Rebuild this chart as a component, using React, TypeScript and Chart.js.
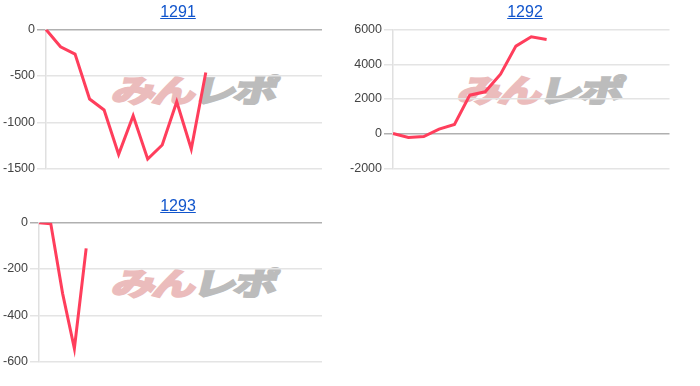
import React, { useEffect, useRef } from "react";
import { Chart, registerables } from "chart.js";

Chart.register(...registerables);

// ---- data ----
const titles1291 = "1291";
const titles1292 = "1292";
const titles1293 = "1293";

const days1291 = ["1","2","3","4","5","6","7","8","9","10","11","12","13","14","15","16","17","18","19","20"];
const values1291 = [0, -186, -265, -748, -866, -1343, -927, -1393, -1242, -777, -1285, -462];
const ticks1291 = [-1500, -1000, -500, 0];

const days1292 = ["1","2","3","4","5","6","7","8","9","10","11","12","13","14","15","16","17","18","19"];
const values1292 = [10, -216, -158, 264, 533, 2221, 2413, 3430, 5043, 5580, 5426];
const ticks1292 = [-2000, 0, 2000, 4000, 6000];

const days1293 = ["1","2","3","4","5","6","7","8","9","10","11","12","13","14","15","16","17","18","19","20","21","22","23","24","25"];
const values1293 = [0, -5, -305, -543, -111];
const ticks1293 = [-600, -400, -200, 0];

const LINE = "rgb(255,62,92)";
const FONT = "Arial, 'Liberation Sans', sans-serif";

type Box = { left: number; top: number; width: number; height: number };

function MiniChart(props: {
  box: Box;
  labels: string[];
  values: number[];
  ticks: number[];
  axisWidth: number;
  pad: { top: number; bottom: number; right: number };
}) {
  const ref = useRef<HTMLCanvasElement | null>(null);
  useEffect(() => {
    if (!ref.current) return;
    const { labels, values, ticks, axisWidth, pad } = props;
    const min = ticks[0];
    const max = ticks[ticks.length - 1];
    const step = ticks[1] - ticks[0];
    const chart = new Chart(ref.current, {
      type: "line",
      data: {
        labels,
        datasets: [
          {
            data: values,
            borderColor: LINE,
            backgroundColor: LINE,
            borderWidth: 3,
            pointRadius: 0,
            tension: 0,
            fill: false,
          },
        ],
      },
      options: {
        animation: false,
        responsive: false,
        maintainAspectRatio: false,
        layout: { padding: { left: 0, top: pad.top, bottom: pad.bottom, right: pad.right } },
        plugins: { legend: { display: false }, tooltip: { enabled: false }, title: { display: false } },
        scales: {
          x: { type: "category", display: false, offset: false },
          y: {
            min,
            max,
            afterBuildTicks: (s: any) => {
              s.ticks = ticks.map((v) => ({ value: v }));
            },
            afterFit: (s: any) => {
              s.width = axisWidth;
            },
            ticks: {
              stepSize: step,
              color: "#444",
              font: { family: FONT, size: 12.5 },
              padding: 2,
              callback: (v: any) => String(v),
            },
            grid: {
              color: (ctx: any) => (ctx.tick && ctx.tick.value === 0 ? "#b0b0b0" : "#e4e4e4"),
              lineWidth: 1.5,
              tickLength: 9,
              drawTicks: true,
            },
            border: { display: true, color: "#e0e0e0", width: 1.5 },
          },
        },
      },
    });
    return () => chart.destroy();
  }, []);
  const { box } = props;
  return (
    <canvas
      ref={ref}
      width={box.width}
      height={box.height}
      style={{ position: "absolute", left: box.left, top: box.top, width: box.width, height: box.height, zIndex: 2 }}
    />
  );
}

function Title(props: { text: string; center: number; top: number }) {
  return (
    <div
      style={{
        position: "absolute",
        left: props.center - 100,
        top: props.top,
        width: 200,
        textAlign: "center",
        fontFamily: FONT,
        fontSize: 16,
        lineHeight: "18px",
        zIndex: 3,
      }}
    >
      <a href="#" style={{ color: "#1155cc", textDecoration: "underline" }}>
        {props.text}
      </a>
    </div>
  );
}

function Watermark(props: { left: number; top: number }) {
  return (
    <div
      style={{
        position: "absolute",
        left: props.left,
        top: props.top,
        width: 170,
        height: 34,
        zIndex: 1,
        fontFamily: "'Noto Sans CJK JP', sans-serif",
        fontWeight: 700,
        fontSize: 31,
        lineHeight: "34px",
        whiteSpace: "nowrap",
        transform: "skewX(-14deg) scaleX(1.4)",
        transformOrigin: "left top",
        letterSpacing: "-2px",
      }}
    >
      <span style={{ color: "#ebbcbc", WebkitTextStroke: "2.5px #ebbcbc" } as any}>みん</span>
      <span style={{ color: "#bcbcbc", WebkitTextStroke: "2.5px #bcbcbc" } as any}>レポ</span>
    </div>
  );
}

export default function App() {
  return (
    <div style={{ position: "fixed", left: 0, top: 0, width: 700, height: 386, background: "#fff", overflow: "hidden" }}>
      <Title text={titles1291} center={178} top={3} />
      <Watermark left={118} top={72} />
      <MiniChart
        box={{ left: 0, top: 0, width: 340, height: 186 }}
        labels={days1291}
        values={values1291}
        ticks={ticks1291}
        axisWidth={46}
        pad={{ top: 29.5, bottom: 17, right: 18 }}
      />

      <Title text={titles1292} center={525} top={3} />
      <Watermark left={464} top={72} />
      <MiniChart
        box={{ left: 340, top: 0, width: 360, height: 186 }}
        labels={days1292}
        values={values1292}
        ticks={ticks1292}
        axisWidth={53}
        pad={{ top: 29.5, bottom: 17.5, right: 30.5 }}
      />

      <Title text={titles1293} center={178} top={197} />
      <Watermark left={118} top={265} />
      <MiniChart
        box={{ left: 0, top: 190, width: 340, height: 196 }}
        labels={days1293}
        values={values1293}
        ticks={ticks1293}
        axisWidth={39}
        pad={{ top: 32.7, bottom: 24.3, right: 18 }}
      />
    </div>
  );
}
